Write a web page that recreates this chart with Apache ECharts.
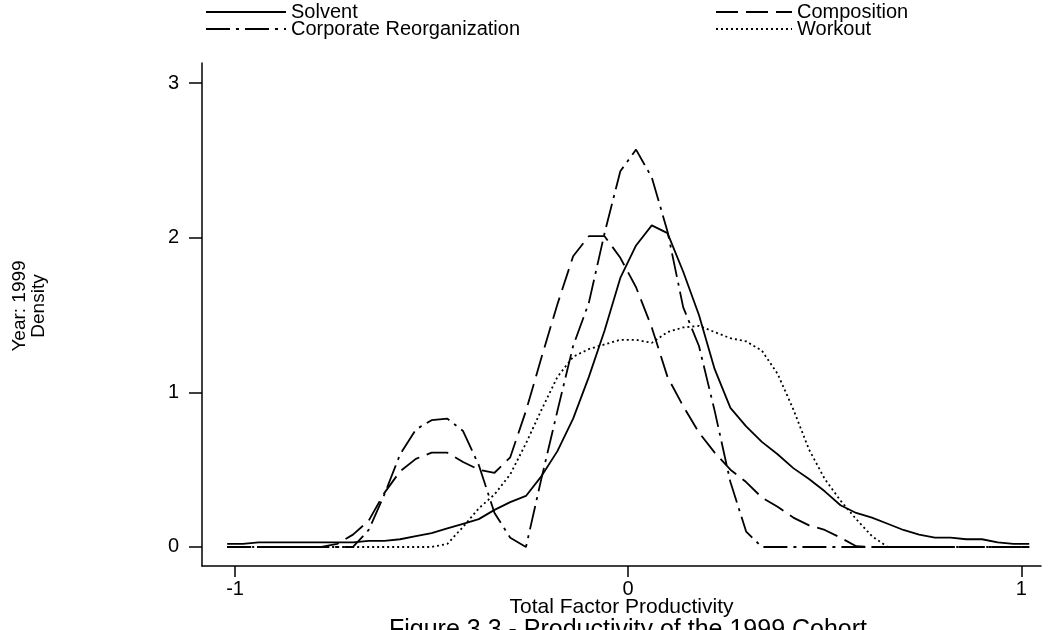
<!DOCTYPE html>
<html>
<head>
<meta charset="utf-8">
<title>Productivity of the 1999 Cohort</title>
<script src="https://cdn.jsdelivr.net/npm/echarts@6/dist/echarts.min.js"></script>
<style>
  html, body { margin: 0; padding: 0; background: #fff; }
  #chart { width: 1053px; height: 630px; }
</style>
</head>
<body>
<div id="chart"></div>
<script>
// kernel density grid (total factor productivity)
var tfp = [-1.02, -0.98, -0.94, -0.90, -0.86, -0.82, -0.78, -0.74, -0.70, -0.66,
  -0.62, -0.58, -0.54, -0.50, -0.46, -0.42, -0.38, -0.34, -0.30, -0.26,
  -0.22, -0.18, -0.14, -0.10, -0.06, -0.02, 0.02, 0.06, 0.10, 0.14,
  0.18, 0.22, 0.26, 0.30, 0.34, 0.38, 0.42, 0.46, 0.50, 0.54,
  0.58, 0.62, 0.66, 0.70, 0.74, 0.78, 0.82, 0.86, 0.90, 0.94,
  0.98, 1.02];

var solvent = [0.02, 0.02, 0.03, 0.03, 0.03, 0.03, 0.03, 0.03, 0.03, 0.04,
  0.04, 0.05, 0.07, 0.09, 0.12, 0.15, 0.18, 0.24, 0.29, 0.33,
  0.46, 0.62, 0.83, 1.10, 1.40, 1.74, 1.95, 2.08, 2.03, 1.78,
  1.50, 1.15, 0.90, 0.78, 0.68, 0.60, 0.51, 0.44, 0.36, 0.27,
  0.22, 0.19, 0.15, 0.11, 0.08, 0.06, 0.06, 0.05, 0.05, 0.03,
  0.02, 0.02];

var composition = [0, 0, 0, 0, 0, 0, 0, 0.02, 0.08, 0.17,
  0.35, 0.49, 0.57, 0.61, 0.61, 0.55, 0.50, 0.48, 0.58, 0.88,
  1.23, 1.57, 1.88, 2.01, 2.01, 1.87, 1.68, 1.42, 1.10, 0.91,
  0.74, 0.61, 0.50, 0.42, 0.32, 0.26, 0.19, 0.14, 0.11, 0.06,
  0.005, 0, 0, 0, 0, 0, 0, 0, 0, 0,
  0, 0];

var reorganization = [0, 0, 0, 0, 0, 0, 0, 0, 0, 0.11,
  0.34, 0.60, 0.76, 0.82, 0.83, 0.75, 0.53, 0.22, 0.06, 0,
  0.45, 0.88, 1.30, 1.58, 2.03, 2.43, 2.57, 2.39, 2.04, 1.55,
  1.30, 0.88, 0.42, 0.10, 0, 0, 0, 0, 0, 0,
  0, 0, 0, 0, 0, 0, 0, 0, 0, 0,
  0, 0];

var workout = [0, 0, 0, 0, 0, 0, 0, 0, 0, 0,
  0, 0, 0, 0, 0.02, 0.13, 0.25, 0.34, 0.47, 0.67,
  0.89, 1.10, 1.23, 1.28, 1.31, 1.34, 1.34, 1.32, 1.39, 1.42,
  1.43, 1.39, 1.35, 1.33, 1.27, 1.12, 0.89, 0.63, 0.44, 0.30,
  0.18, 0.07, 0, 0, 0, 0, 0, 0, 0, 0,
  0, 0];

var xTicks = [-1, 0, 1];
var yTicks = [0, 1, 2, 3];

function pairs(ys) {
  var out = [];
  for (var i = 0; i < tfp.length; i++) {
    out.push([tfp[i], ys[i]]);
  }
  return out;
}

var font = "Arial, 'Liberation Sans', Helvetica, sans-serif";

function lineSeries(name, ys, dash) {
  return {
    name: name,
    type: "line",
    symbol: "none",
    smooth: false,
    lineStyle: { color: "#000", width: 1.8, type: dash },
    itemStyle: { color: "#000" },
    data: pairs(ys)
  };
}

var legendText = { color: "#000", fontFamily: font, fontSize: 20, lineHeight: 17 };

var option = {
  animation: false,
  backgroundColor: "#fff",
  textStyle: { fontFamily: font, color: "#000" },
  legend: [
    {
      left: 200,
      top: -3,
      orient: "vertical",
      itemGap: -3,
      itemWidth: 80,
      itemHeight: 12,
      itemStyle: { opacity: 0 },
      textStyle: legendText,
      data: ["Solvent", "Corporate Reorganization"]
    },
    {
      left: 710,
      top: -3,
      orient: "vertical",
      itemGap: -3,
      itemWidth: 76,
      itemHeight: 12,
      itemStyle: { opacity: 0 },
      textStyle: legendText,
      data: ["Composition", "Workout"]
    }
  ],
  grid: {
    left: 202,
    right: 12,
    top: 63,
    bottom: 64
  },
  xAxis: {
    type: "value",
    min: -1.084,
    max: 1.05,
    name: "Total Factor Productivity",
    nameLocation: "middle",
    nameGap: 31,
    nameMoveOverlap: false,
    nameTextStyle: { color: "#000", fontSize: 21, fontFamily: font },
    axisLine: { onZero: false, lineStyle: { color: "#000", width: 1.5 } },
    axisTick: { customValues: xTicks, length: 11, lineStyle: { color: "#000", width: 1.5 } },
    axisLabel: { customValues: xTicks, margin: 13, color: "#000", fontSize: 20, fontFamily: font },
    splitLine: { show: false }
  },
  yAxis: {
    type: "value",
    min: -0.123,
    max: 3.13,
    axisLine: { show: true, onZero: false, lineStyle: { color: "#000", width: 1.5 } },
    axisTick: { show: true, customValues: yTicks, length: 13, lineStyle: { color: "#000", width: 1.5 } },
    axisLabel: { customValues: yTicks, margin: 23, color: "#000", fontSize: 20, fontFamily: font },
    splitLine: { show: false }
  },
  graphic: [
    {
      type: "text",
      x: 29,
      y: 306,
      rotation: Math.PI / 2,
      style: {
        text: "Year: 1999\nDensity",
        fill: "#000",
        font: "19px " + font,
        lineHeight: 19,
        align: "center",
        verticalAlign: "middle"
      }
    },
    {
      type: "text",
      x: 628,
      y: 630,
      style: {
        text: "Figure 3.3 - Productivity of the 1999 Cohort",
        fill: "#000",
        font: "25px " + font,
        align: "center",
        verticalAlign: "middle"
      }
    }
  ],
  series: [
    lineSeries("Solvent", solvent, "solid"),
    lineSeries("Composition", composition, [22, 8]),
    lineSeries("Corporate Reorganization", reorganization, [24, 6, 3, 6]),
    lineSeries("Workout", workout, [2, 3])
  ]
};

var chart = echarts.init(document.getElementById("chart"));
chart.setOption(option);
window.addEventListener("resize", function () { chart.resize(); });
</script>
</body>
</html>
